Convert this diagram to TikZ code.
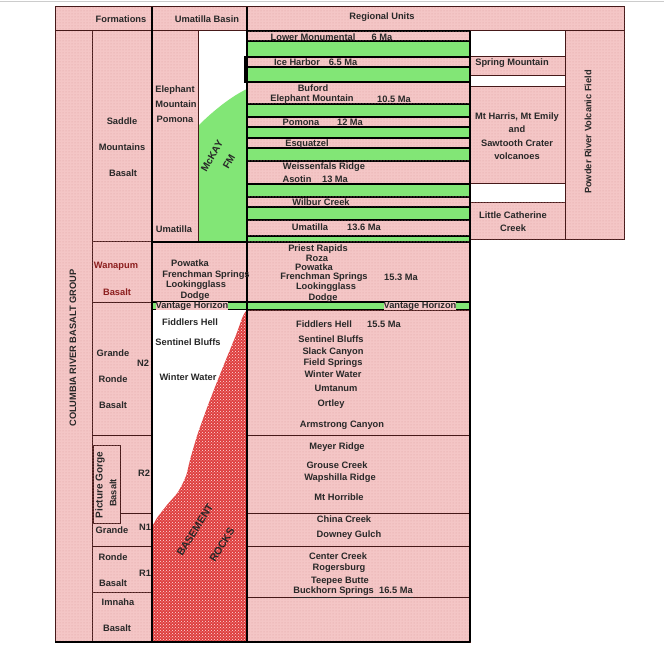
\documentclass[tikz,border=0pt]{standalone}
\usepackage{fontspec}
\setmainfont{Liberation Sans}
\usetikzlibrary{patterns}
\definecolor{pk}{RGB}{244,198,198}
\definecolor{pkd}{RGB}{222,160,160}
\definecolor{gr}{RGB}{130,230,118}
\definecolor{rd}{RGB}{222,62,62}
\definecolor{rdl}{RGB}{255,225,225}
\definecolor{dk}{RGB}{70,25,25}
\definecolor{tc}{RGB}{40,40,40}
\definecolor{wr}{RGB}{140,30,30}
\begin{document}
\begin{tikzpicture}[x=1pt,y=-1pt,
  pbox/.style={fill=pk,draw=dk,line width=1pt,postaction={pattern=dots,pattern color=pkd}},
  wbox/.style={fill=white,draw=dk,line width=1pt},
  pstrip/.style={fill=pk,draw=black,line width=1.2pt,postaction={pattern=dots,pattern color=pkd}},
  blk/.style={draw=black,line width=1.8pt},
  lbl/.style={font=\bfseries\fontsize{9.3}{10}\selectfont,text=tc,inner sep=0pt},
  rlbl/.style={lbl,text=wr},
  rot/.style={lbl,rotate=60,font=\bfseries\fontsize{10.5}{12}\selectfont}]
\useasboundingbox (0,0) rectangle (664,647);
\draw[gray!40,line width=0.8pt] (0,1.5) -- (664,1.5);
% header
\draw[pbox] (55,7) rectangle (624,31);
% column 1
\draw[pbox] (55,31) rectangle (92,642);
% column 2 cells
\draw[pbox] (92,31) rectangle (152,242);
\draw[pbox] (92,242) rectangle (152,302);
\draw[pbox] (92,302) rectangle (152,435);
\draw[pbox] (92,435) rectangle (152,546);
\draw[dk,line width=1pt] (120,513) -- (152,513);
\draw[pbox] (93,445) rectangle (120,523);
\draw[pbox] (92,546) rectangle (152,592);
\draw[pbox] (92,592) rectangle (152,642);
% Umatilla basin column
\draw[pbox] (152,31) rectangle (198,242);
\fill[white] (198,31) rectangle (247,242);
\fill[gr] (198,242) -- (198,126) .. controls (214,110) and (232,96) .. (247,89) -- (247,242) -- cycle;
\draw[dk,line width=1pt] (198,31) -- (198,242);
% center column upper strips
\fill[gr] (247,31) rectangle (470,242);
\foreach \a/\b in {31/41,57/67,82/104,117/127,138/148,161/184,197/207,220/236}
  \draw[pstrip] (247,\a) rectangle (470,\b);
\draw[blk] (245,57) rectangle (470,82);
% middle rows
\draw[pstrip] (152,242) rectangle (470,302);
\draw[fill=gr,draw=black,line width=1.2pt] (152,302) rectangle (470,310);
\fill[white] (152,310) rectangle (247,642);
\path[fill=rd,postaction={pattern=crosshatch dots,pattern color=rdl}] (247,310) -- plot[smooth] coordinates {(247,310) (243,316) (236,335) (223,367) (210,400) (198,433) (190,460) (186,476) (178,492) (167,505) (157,518) (152,527)} -- (152,642) -- (247,642) -- cycle;
\foreach \a/\b in {310/435,435/513,513/546,546/597,597/642}
  \draw[pbox] (247,\a) rectangle (470,\b);
% right columns
\draw[wbox] (470,31) rectangle (565,57);
\draw[pbox] (470,57) rectangle (565,76);
\draw[wbox] (470,76) rectangle (565,87);
\draw[pbox] (470,87) rectangle (565,184);
\draw[wbox] (470,184) rectangle (565,203);
\draw[pbox] (470,203) rectangle (565,240);
\draw[pbox] (565,31) rectangle (624,240);
% heavy lines
\draw[blk] (152,7) -- (152,642);
\draw[blk] (247,7) -- (247,642);
\draw[blk] (470,31) -- (470,642);
\draw[blk] (55,642) -- (470,642);
\draw[blk] (152,242) -- (247,242);
% header texts
\node[lbl] (hF) at (121,19) {Formations};
\node[lbl] (hU) at (207,19) {Umatilla Basin};
\node[lbl] (hR) at (382,17) {Regional Units};
% column 1
\node[lbl,rotate=90] (crbg) at (73,348) {COLUMBIA RIVER BASALT GROUP};
% column 2
\node[lbl] (f1) at (122,121) {Saddle};
\node[lbl] (f2) at (122,147) {Mountains};
\node[lbl] (f3) at (123,173) {Basalt};
\node[rlbl] (f4) at (116,266) {Wanapum};
\node[rlbl] (f5) at (117,292) {Basalt};
\node[lbl] (f6) at (113,353) {Grande};
\node[lbl] (f7) at (143,363) {N2};
\node[lbl] (f8) at (113,379) {Ronde};
\node[lbl] (f9) at (113,405) {Basalt};
\node[lbl] (f10) at (144,473) {R2};
\node[lbl,rotate=90,font=\bfseries\fontsize{10}{11}\selectfont] (f11) at (100,485) {Picture Gorge};
\node[lbl,rotate=90] (f12) at (113,493) {Basalt};
\node[lbl] (f13) at (112,530) {Grande};
\node[lbl] (f14) at (145,527) {N1};
\node[lbl] (f15) at (113,557) {Ronde};
\node[lbl] (f16) at (145,573) {R1};
\node[lbl] (f17) at (113,583) {Basalt};
\node[lbl] (f18) at (118,602) {Imnaha};
\node[lbl] (f19) at (117,628) {Basalt};
% Umatilla basin texts
\node[lbl] (u1) at (175,90) {Elephant};
\node[lbl] (u2) at (176,104) {Mountain};
\node[lbl] (u3) at (175,119) {Pomona};
\node[lbl] (u4) at (174,229) {Umatilla};
\node[rot,font=\bfseries\fontsize{10}{12}\selectfont] (mck1) at (212,156) {McKAY};
\node[rot,font=\bfseries\fontsize{10}{12}\selectfont] (mck2) at (229,162) {FM};
\node[lbl] (u5) at (190,263) {Powatka};
\node[lbl] (u6) at (206,275) {Frenchman Springs};
\node[lbl] (u7) at (196,285) {Lookingglass};
\node[lbl] (u8) at (195,296) {Dodge};
\node[lbl,fill=pk] (u9) at (192,306) {Vantage Horizon};
\node[lbl] (u10) at (190,322) {Fiddlers Hell};
\node[lbl] (u11) at (188,342) {Sentinel Bluffs};
\node[lbl] (u12) at (188,377) {Winter Water};
\node[rot,rotate=-2] (b1) at (195,530) {BASEMENT};
\node[rot,rotate=-2] (b2) at (222,545) {ROCKS};
% center column texts
\node[lbl] (c1) at (313,37) {Lower Monumental};
\node[lbl] (c2) at (382,37) {6 Ma};
\node[lbl] (c3) at (297,62) {Ice Harbor};
\node[lbl] (c4) at (343,62) {6.5 Ma};
\node[lbl] (c5) at (313,88) {Buford};
\node[lbl] (c6) at (312,99) {Elephant Mountain};
\node[lbl] (c7) at (394,99) {10.5 Ma};
\node[lbl] (c8) at (301,122) {Pomona};
\node[lbl] (c9) at (350,122) {12 Ma};
\node[lbl] (c10) at (307,144) {Esquatzel};
\node[lbl] (c11) at (324,167) {Weissenfals Ridge};
\node[lbl] (c12) at (297,179) {Asotin};
\node[lbl] (c13) at (335,179) {13 Ma};
\node[lbl] (c14) at (321,202) {Wilbur Creek};
\node[lbl] (c15) at (310,227) {Umatilla};
\node[lbl] (c16) at (364,227) {13.6 Ma};
\node[lbl] (c17) at (318,249) {Priest Rapids};
\node[lbl] (c18) at (317,258) {Roza};
\node[lbl] (c19) at (314,267) {Powatka};
\node[lbl] (c20) at (324,277) {Frenchman Springs};
\node[lbl] (c21) at (401,277) {15.3 Ma};
\node[lbl] (c22) at (326,287) {Lookingglass};
\node[lbl] (c23) at (323,298) {Dodge};
\node[lbl,fill=pk] (c24) at (420,306) {Vantage Horizon};
\node[lbl] (c25) at (324,324) {Fiddlers Hell};
\node[lbl] (c26) at (384,324) {15.5 Ma};
\node[lbl] (c27) at (331,339) {Sentinel Bluffs};
\node[lbl] (c28) at (333,352) {Slack Canyon};
\node[lbl] (c29) at (333,363) {Field Springs};
\node[lbl] (c30) at (333,374) {Winter Water};
\node[lbl] (c31) at (336,388) {Umtanum};
\node[lbl] (c32) at (331,404) {Ortley};
\node[lbl] (c33) at (342,425) {Armstrong Canyon};
\node[lbl] (c34) at (337,447) {Meyer Ridge};
\node[lbl] (c35) at (337,465) {Grouse Creek};
\node[lbl] (c36) at (340,478) {Wapshilla Ridge};
\node[lbl] (c37) at (339,497) {Mt Horrible};
\node[lbl] (c38) at (344,519) {China Creek};
\node[lbl] (c39) at (349,535) {Downey Gulch};
\node[lbl] (c40) at (338,556) {Center Creek};
\node[lbl] (c41) at (339,568) {Rogersburg};
\node[lbl] (c42) at (340,581) {Teepee Butte};
\node[lbl] (c43) at (353,592) {\underline{Buckhorn Springs\ \ 16.5 Ma}};
% right column texts
\node[lbl] (r1) at (512,63) {Spring Mountain};
\node[lbl] (r2) at (517,117) {Mt Harris, Mt Emily};
\node[lbl] (r3) at (517,129) {and};
\node[lbl] (r4) at (517,143) {Sawtooth Crater};
\node[lbl] (r5) at (517,156) {volcanoes};
\node[lbl] (r6) at (513,215) {Little Catherine};
\node[lbl] (r7) at (513,228) {Creek};
\node[lbl,rotate=90] (r8) at (588,132) {Powder River Volcanic Field};
\end{tikzpicture}
\end{document}
